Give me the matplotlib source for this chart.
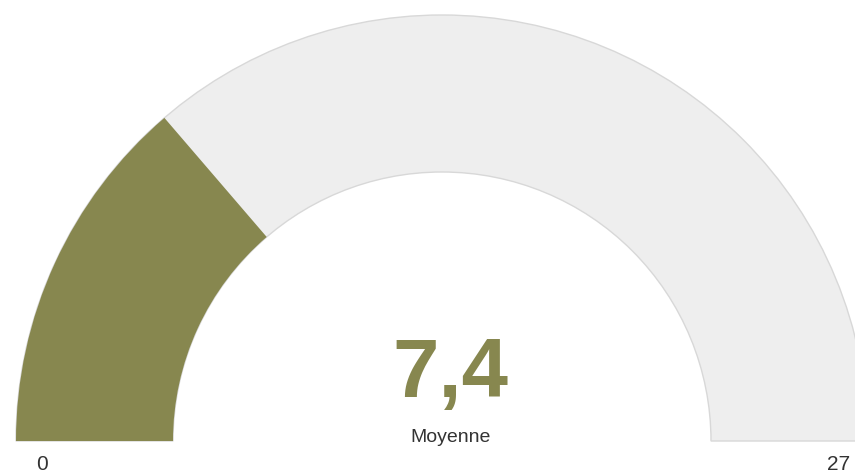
import matplotlib.pyplot as plt
from matplotlib.patches import Wedge

value = 7.4
min_value = 0
max_value = 27
value_label = "7,4"
caption = "Moyenne"

W, H = 855, 474
CX, CY = 442, H - 441
R_OUT = 426
R_IN = 269
OLIVE = '#87874f'
GRAY = '#eeeeee'

fig = plt.figure(figsize=(W / 100, H / 100), dpi=100)
ax = fig.add_axes([0, 0, 1, 1])
ax.set_xlim(0, W)
ax.set_ylim(0, H)
ax.axis('off')

frac = (value - min_value) / (max_value - min_value)
split = 180 - 180 * frac

ax.add_patch(Wedge((CX, CY), R_OUT, 0, 180, width=R_OUT - R_IN,
                   facecolor=GRAY, edgecolor='#d8d8d8', linewidth=1))
ax.add_patch(Wedge((CX, CY), R_OUT, split, 180, width=R_OUT - R_IN,
                   facecolor=OLIVE, edgecolor='none'))

ax.text(450, H - 397, value_label, ha='center', va='baseline',
        fontsize=60, fontweight='bold', color=OLIVE, family='Liberation Sans')
ax.text(451, H - 442, caption, ha='center', va='baseline',
        fontsize=14, color='#333333', family='Liberation Sans')
ax.text(42, H - 470, str(min_value), ha='center', va='baseline',
        fontsize=15, color='#333333', family='Liberation Sans')
ax.text(839, H - 470, str(max_value), ha='center', va='baseline',
        fontsize=15, color='#333333', family='Liberation Sans')

fig.savefig('out.png', dpi=100)
